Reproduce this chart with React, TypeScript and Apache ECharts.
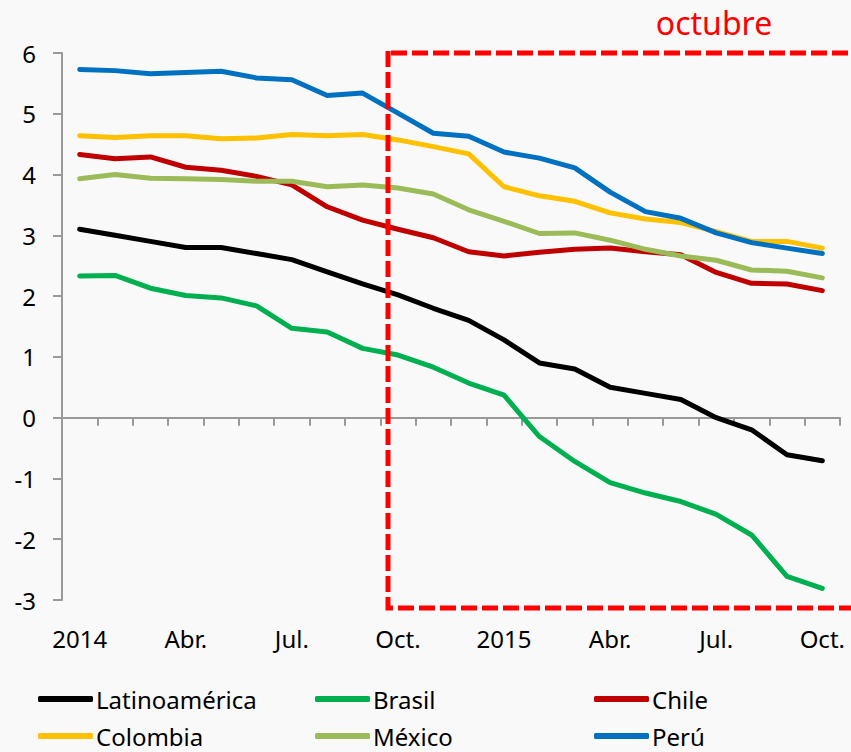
import React, { useEffect, useRef } from "react";
import * as echarts from "echarts";

const months: string[] = [
  "2014", "Feb.", "Mar.", "Abr.", "May.", "Jun.", "Jul.", "Ago.", "Sep.", "Oct.", "Nov.", "Dic.",
  "2015", "Feb.", "Mar.", "Abr.", "May.", "Jun.", "Jul.", "Ago.", "Sep.", "Oct.",
];

const latinoamerica: number[] = [3.1, 3.0, 2.9, 2.8, 2.8, 2.7, 2.6, 2.4, 2.2, 2.02, 1.8, 1.6, 1.28, 0.9, 0.8, 0.5, 0.4, 0.3, 0.0, -0.2, -0.61, -0.71];
const brasil: number[] = [2.33, 2.34, 2.13, 2.01, 1.97, 1.84, 1.47, 1.41, 1.14, 1.03, 0.83, 0.57, 0.37, -0.31, -0.72, -1.07, -1.24, -1.38, -1.59, -1.93, -2.61, -2.81];
const chile: number[] = [4.33, 4.26, 4.29, 4.12, 4.07, 3.97, 3.83, 3.47, 3.25, 3.1, 2.96, 2.73, 2.66, 2.72, 2.77, 2.79, 2.73, 2.68, 2.39, 2.21, 2.2, 2.09];
const colombia: number[] = [4.64, 4.61, 4.64, 4.64, 4.59, 4.6, 4.66, 4.64, 4.66, 4.57, 4.46, 4.34, 3.8, 3.65, 3.56, 3.37, 3.27, 3.21, 3.06, 2.9, 2.9, 2.79];
const mexico: number[] = [3.93, 4.0, 3.94, 3.93, 3.92, 3.89, 3.89, 3.8, 3.83, 3.78, 3.68, 3.42, 3.23, 3.03, 3.04, 2.92, 2.77, 2.66, 2.59, 2.43, 2.41, 2.3];
const peru: number[] = [5.73, 5.71, 5.66, 5.68, 5.7, 5.59, 5.56, 5.3, 5.34, 5.01, 4.68, 4.63, 4.37, 4.27, 4.11, 3.71, 3.39, 3.28, 3.04, 2.88, 2.79, 2.7];

const seriesNames: string[] = ["Latinoamérica", "Brasil", "Chile", "Colombia", "México", "Perú"];
const seriesColors: string[] = ["#000000", "#00B050", "#C00000", "#FFC000", "#9BBB59", "#0070C0"];
const seriesData: number[][] = [latinoamerica, brasil, chile, colombia, mexico, peru];

const legendColumns: string[][] = [
  ["Latinoamérica", "Colombia"],
  ["Brasil", "México"],
  ["Chile", "Perú"],
];

const FONT = "'Noto Sans', 'Open Sans', sans-serif";

export default function App() {
  const ref = useRef<HTMLDivElement>(null);

  useEffect(() => {
    if (!ref.current) return;
    const chart = echarts.init(ref.current, undefined, { renderer: "svg" });
    const legendLefts = [38, 315, 594];
    const option: any = {
      animation: false,
      backgroundColor: "#F9F9F9",
      textStyle: { fontFamily: FONT },
      grid: { left: 62, right: 11, top: 53, bottom: 152, containLabel: false },
      xAxis: [
        {
          type: "category",
          data: months,
          boundaryGap: true,
          position: "bottom",
          axisLine: { show: true, onZero: true, lineStyle: { color: "#999999", width: 2 } },
          axisTick: { show: true, interval: 0, length: 8, lineStyle: { color: "#999999", width: 2 } },
          axisLabel: { show: false },
          splitLine: { show: false },
        },
        {
          type: "category",
          data: months,
          boundaryGap: true,
          position: "bottom",
          axisLine: { show: false, onZero: false },
          axisTick: { show: false },
          axisLabel: {
            show: true,
            interval: 2,
            fontSize: 24,
            color: "#000000",
            margin: 26,
            fontFamily: FONT,
          },
          splitLine: { show: false },
        },
      ],
      yAxis: {
        type: "value",
        min: -3,
        max: 6,
        interval: 1,
        axisLine: { show: true, lineStyle: { color: "#999999", width: 2 } },
        axisTick: { show: true, length: 9, lineStyle: { color: "#999999", width: 2 } },
        axisLabel: { fontSize: 24, color: "#000000", margin: 26, fontFamily: FONT },
        splitLine: { show: false },
      },
      legend: legendColumns.map((col, i) => ({
        data: col,
        orient: "vertical",
        left: legendLefts[i],
        top: 686,
        height: 64,
        padding: 0,
        itemWidth: 55,
        itemHeight: 6,
        itemGap: 11,
        icon: "roundRect",
        selectedMode: false,
        textStyle: { fontSize: 24, color: "#000000", fontFamily: FONT, lineHeight: 26, padding: [0, 0, 0, -2] },
      })),
      series: seriesNames.map((name, i) => ({
        name,
        type: "line",
        data: seriesData[i],
        xAxisIndex: 0,
        yAxisIndex: 0,
        symbol: "none",
        color: seriesColors[i],
        lineStyle: { color: seriesColors[i], width: 5, cap: "round", join: "round" },
        z: 2 + i,
      })),
      graphic: [
        {
          type: "text",
          x: 714,
          y: 22,
          style: {
            text: "octubre",
            fill: "#FF0000",
            fontSize: 32,
            fontFamily: FONT,
            textAlign: "center",
            textVerticalAlign: "middle",
          },
          silent: true,
        },
        {
          type: "polyline",
          shape: { points: [[391, 53], [870, 53]] },
          style: { stroke: "#FF0000", lineWidth: 5, lineDash: [16, 5], fill: null },
          silent: true,
          z: 10,
        },
        {
          type: "polyline",
          shape: { points: [[388, 51], [388, 608], [870, 608]] },
          style: { stroke: "#FF0000", lineWidth: 5, lineDash: [16, 5], fill: null },
          silent: true,
          z: 10,
        },
      ],
    };
    chart.setOption(option);
    return () => chart.dispose();
  }, []);

  return (
    <div
      ref={ref}
      style={{ position: "fixed", left: 0, top: 0, width: 851, height: 752, background: "#F9F9F9" }}
    />
  );
}
